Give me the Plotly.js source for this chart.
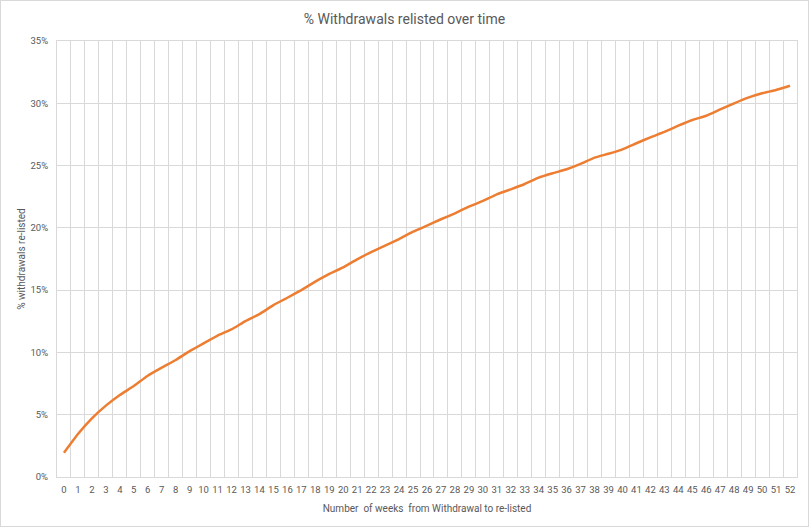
<!DOCTYPE html>
<html>
<head>
<meta charset="utf-8">
<script src="https://cdn.plot.ly/plotly-3.0.1.min.js"></script>
<style>
  html, body { margin: 0; padding: 0; background: #fff; }
  #wrap { position: relative; width: 809px; height: 527px; }
  #chart { width: 809px; height: 527px; }
  #frame { position: absolute; left: 0; top: 0; width: 807px; height: 525px; border: 1px solid #d9d9d9; pointer-events: none; }
</style>
</head>
<body>
<div id="wrap"><div id="chart"></div><div id="frame"></div></div>
<script>
const weeks = [0,1,2,3,4,5,6,7,8,9,10,11,12,13,14,15,16,17,18,19,20,21,22,23,24,25,26,27,28,29,30,31,32,33,34,35,36,37,38,39,40,41,42,43,44,45,46,47,48,49,50,51,52];
const pctRelisted = [0.0195,0.0345,0.0471,0.0573,0.0658,0.0730,0.0813,0.0878,0.0939,0.1010,0.1073,0.1135,0.1185,0.1252,0.1308,0.1380,0.1439,0.1500,0.1568,0.1630,0.1683,0.1747,0.1806,0.1857,0.1910,0.1969,0.2018,0.2069,0.2117,0.2170,0.2216,0.2269,0.2309,0.2352,0.2403,0.2438,0.2470,0.2513,0.2564,0.2595,0.2630,0.2679,0.2727,0.2770,0.2820,0.2866,0.2900,0.2951,0.3000,0.3045,0.3080,0.3107,0.3141];
const titleText = '% Withdrawals relisted over time';
const xTitle = 'Number  of weeks  from Withdrawal to re-listed';
const yTitle = '% withdrawals re-listed';

const grid = '#d9d9d9';
const txt = '#595959';
const fam = 'Roboto, "Open Sans", sans-serif';

Plotly.newPlot('chart', [{
  x: weeks, y: pctRelisted, type: 'scatter', mode: 'lines',
  line: { color: '#ED7D31', width: 2.5, shape: 'spline', smoothing: 0.3 },
  hoverinfo: 'x+y'
}], {
  width: 809, height: 527,
  margin: { l: 57, r: 12, t: 41, b: 50 },
  paper_bgcolor: '#fff', plot_bgcolor: '#fff',
  showlegend: false,
  title: { text: titleText, x: 0.5, xanchor: 'center', y: 0.963, yanchor: 'middle',
           font: { family: fam, size: 14, color: txt } },
  xaxis: {
    range: [-0.5, 52.5], tickmode: 'array', tickvals: weeks, ticktext: weeks.map(String),
    showgrid: false, zeroline: false, ticks: '',
    showline: true, linecolor: grid, linewidth: 1, mirror: true,
    minor: { tickmode: 'linear', tick0: -0.5, dtick: 1, showgrid: true, gridcolor: grid, gridwidth: 1, ticks: '' },
    tickfont: { family: fam, size: 9.5, color: txt }, ticklabelstandoff: 4,
    title: { text: xTitle, standoff: 10, font: { family: fam, size: 10, color: txt } }
  },
  yaxis: {
    range: [0, 0.35], dtick: 0.05, tickformat: '.0%',
    showgrid: true, gridcolor: grid, gridwidth: 1, zeroline: false, ticks: '',
    showline: true, linecolor: grid, linewidth: 1, mirror: true,
    tickfont: { family: fam, size: 9.5, color: txt }, ticklabelstandoff: 6,
    title: { text: yTitle, standoff: 2, font: { family: fam, size: 10, color: txt } }
  }
}, { displayModeBar: false, staticPlot: false });
</script>
</body>
</html>
